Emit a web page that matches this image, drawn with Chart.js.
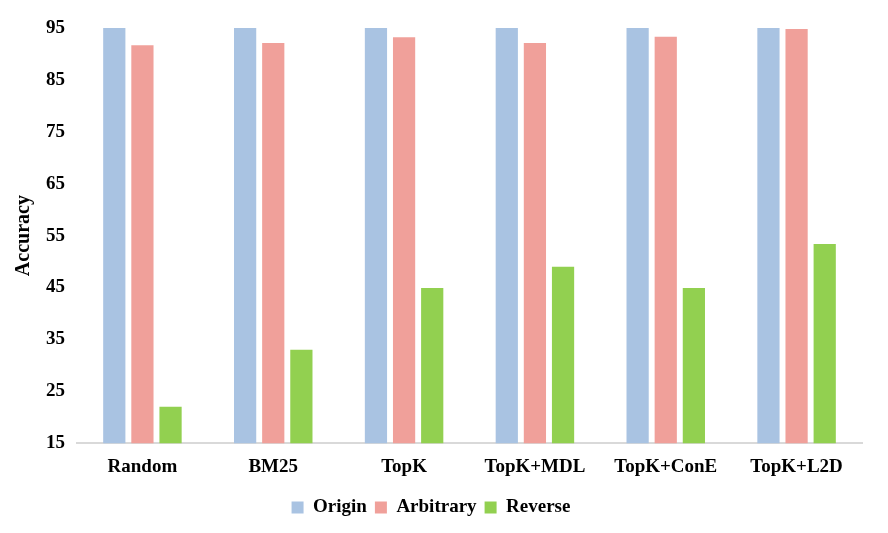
<!DOCTYPE html>
<html>
<head>
<meta charset="utf-8">
<script src="https://cdn.jsdelivr.net/npm/chart.js@4/dist/chart.umd.min.js"></script>
<style>
  html, body { margin: 0; padding: 0; background: #fff; }
  #wrap { width: 888px; height: 533px; }
</style>
</head>
<body>
<div id="wrap"><canvas id="mychart" width="888" height="533"></canvas></div>
<script>
const categories = ['Random', 'BM25', 'TopK', 'TopK+MDL', 'TopK+ConE', 'TopK+L2D']
const origin = [95, 95, 95, 95, 95, 95]
const arbitrary = [91.7, 92.1, 93.2, 92.1, 93.3, 94.8]
const reverse = [22.0, 33.0, 44.9, 49.0, 44.9, 53.4]
const yTicks = [15, 25, 35, 45, 55, 65, 75, 85, 95]

const serif = "'Liberation Serif', 'Times New Roman', serif"

var ctx = document.getElementById('mychart').getContext('2d')
const chart = new Chart(ctx, {
    type: 'bar',
    data: {
        labels: categories,
        datasets: [
            { label: 'Origin', backgroundColor: '#a9c3e2', data: origin },
            { label: 'Arbitrary', backgroundColor: '#f0a09a', data: arbitrary },
            { label: 'Reverse', backgroundColor: '#92d050', data: reverse }
        ]
    },
    options: {
        responsive: false,
        animation: false,
        layout: { padding: { left: 0, right: 26, top: 28, bottom: 6 } },
        datasets: { bar: { categoryPercentage: 0.645, barPercentage: 0.79 } },
        plugins: {
            tooltip: { enabled: false },
            legend: {
                position: 'bottom',
                labels: {
                    color: '#000',
                    boxWidth: 12, boxHeight: 12, padding: 8,
                    font: { family: serif, size: 19, weight: 'bold' }
                }
            }
        },
        scales: {
            x: {
                grid: { display: false, drawTicks: false },
                border: { display: true, color: '#d9d9d9', width: 2 },
                ticks: { color: '#000', padding: 12, font: { family: serif, size: 19, weight: 'bold' } }
            },
            y: {
                min: 15, max: 95,
                afterBuildTicks: axis => { axis.ticks = yTicks.map(v => ({ value: v })) },
                afterFit: axis => { axis.width = 77 },
                grid: { display: false, drawTicks: false },
                border: { display: false },
                title: { display: true, text: 'Accuracy', color: '#000', padding: { top: 12, bottom: 0 },
                         font: { family: serif, size: 20, weight: 'bold' } },
                ticks: { color: '#000', padding: 12, font: { family: serif, size: 19, weight: 'bold' } }
            }
        }
    }
})
</script>
</body>
</html>
